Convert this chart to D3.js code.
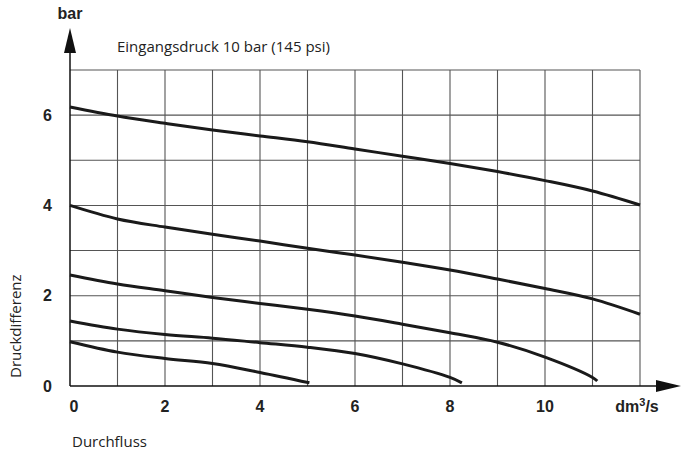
<!DOCTYPE html>
<html>
<head>
<meta charset="utf-8">
<script src="https://cdn.jsdelivr.net/npm/d3@7"></script>
<style>
  body { margin: 0; background: #fff; }
  svg { display: block; }
</style>
</head>
<body>
<svg id="chart" width="681" height="455"></svg>
<script>
// Data (Durchfluss in dm³/s vs. Druckdifferenz in bar)
const xTicks = [0, 2, 4, 6, 8, 10];
const yTicks = [0, 2, 4, 6];
const curve1 = [[0,6.18],[1,5.98],[2,5.82],[3,5.67],[4,5.54],[5,5.41],[6,5.25],[7,5.09],[8,4.93],[9,4.75],[10,4.55],[11,4.32],[12,4.01]];
const curve2 = [[0,4.0],[1,3.70],[2,3.52],[3,3.36],[4,3.21],[5,3.05],[6,2.90],[7,2.74],[8,2.57],[9,2.37],[10,2.16],[11,1.93],[12,1.59]];
const curve3 = [[0,2.46],[1,2.26],[2,2.11],[3,1.96],[4,1.83],[5,1.70],[6,1.55],[7,1.37],[8,1.18],[9,0.97],[10,0.64],[11,0.19],[11.1,0.11]];
const curve4 = [[0,1.44],[1,1.26],[2,1.14],[3,1.06],[4,0.96],[5,0.86],[6,0.72],[7,0.49],[8,0.19],[8.25,0.07]];
const curve5 = [[0,0.98],[1,0.75],[2,0.61],[3,0.50],[4,0.30],[5.04,0.07]];
const curves = [curve1, curve2, curve3, curve4, curve5];
const title = "Eingangsdruck 10 bar (145 psi)";

(function () {
const svg = d3.select("#chart");
const mLeft = 70, mRight = 640, mTop = 70, mBottom = 386;
const x = d3.scaleLinear().domain([0, 12]).range([mLeft, mRight]);
const y = d3.scaleLinear().domain([0, 7]).range([mBottom, mTop]);

// grid
const g = svg.append("g");
g.selectAll(".vg").data(d3.range(1, 13)).join("line")
  .attr("x1", d => x(d)).attr("x2", d => x(d))
  .attr("y1", y(0)).attr("y2", y(7))
  .attr("stroke", "#555").attr("stroke-width", 1.1);
g.selectAll(".hg").data(d3.range(1, 8)).join("line")
  .attr("x1", x(0)).attr("x2", x(12))
  .attr("y1", d => y(d)).attr("y2", d => y(d))
  .attr("stroke", "#555").attr("stroke-width", 1.1);

// axes lines with arrows
svg.append("line").attr("x1", x(0)).attr("x2", x(0)).attr("y1", y(0)).attr("y2", 50)
  .attr("stroke", "#111").attr("stroke-width", 1.5);
svg.append("path").attr("d", `M${x(0)-6},53 L${x(0)+6},53 L${x(0)},28 Z`).attr("fill", "#111");
svg.append("line").attr("x1", x(0)).attr("x2", 660).attr("y1", y(0)).attr("y2", y(0))
  .attr("stroke", "#111").attr("stroke-width", 1.5);
svg.append("path").attr("d", `M656,${y(0)-6} L656,${y(0)+6} L681,${y(0)} Z`).attr("fill", "#111");

// curves
const line = d3.line().x(d => x(d[0])).y(d => y(d[1])).curve(d3.curveCatmullRom.alpha(0.5));
svg.selectAll(".curve").data(curves).join("path")
  .attr("d", line).attr("fill", "none").attr("stroke", "#1a1a1a").attr("stroke-width", 3);

// tick labels
const boldFont = "'Liberation Sans', Arial, sans-serif";
svg.selectAll(".xt").data(xTicks).join("text")
  .attr("x", d => x(d) + (d === 0 ? 4 : 0)).attr("y", 412)
  .attr("text-anchor", "middle").attr("font-family", boldFont).attr("font-weight", "bold")
  .attr("font-size", 16).attr("fill", "#222").text(d => d);
svg.selectAll(".yt").data(yTicks).join("text")
  .attr("x", 52).attr("y", d => y(d) + 5.5)
  .attr("text-anchor", "end").attr("font-family", boldFont).attr("font-weight", "bold")
  .attr("font-size", 16).attr("fill", "#222").text(d => d);

// unit labels
const unit = svg.append("text").attr("x", 637).attr("y", 412).attr("text-anchor", "middle")
  .attr("font-family", boldFont).attr("font-weight", "bold").attr("font-size", 16).attr("fill", "#222");
unit.append("tspan").text("dm");
unit.append("tspan").attr("font-size", 11).attr("dy", -6).text("3");
unit.append("tspan").attr("dy", 6).text("/s");
svg.append("text").attr("x", 70).attr("y", 19).attr("text-anchor", "middle")
  .attr("font-family", boldFont).attr("font-weight", "bold").attr("font-size", 16).attr("fill", "#222").text("bar");

// title & axis titles
const normFont = "'Open Sans', sans-serif";
svg.append("text").attr("x", 117).attr("y", 52).attr("font-family", normFont)
  .attr("font-size", 15).attr("fill", "#222").text(title);
svg.append("text").attr("x", 72).attr("y", 447).attr("font-family", normFont)
  .attr("font-size", 15).attr("fill", "#222").text("Durchfluss");
svg.append("text").attr("transform", "translate(21,378) rotate(-90)")
  .attr("font-family", normFont).attr("font-size", 15).attr("fill", "#222").text("Druckdifferenz");
})();
</script>
</body>
</html>
